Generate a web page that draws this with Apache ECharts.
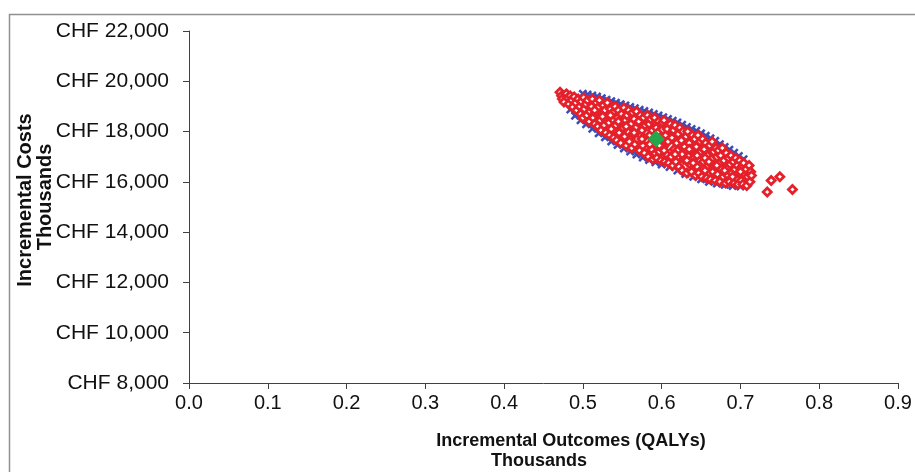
<!DOCTYPE html>
<html>
<head>
<meta charset="utf-8">
<script src="https://cdn.jsdelivr.net/npm/echarts@6/dist/echarts.min.js"></script>
<style>html,body{margin:0;padding:0;background:#fff}#c{width:915px;height:472px}</style>
</head>
<body>
<div id="c"></div>
<script>
const xTicks = [0, 0.1, 0.2, 0.3, 0.4, 0.5, 0.6, 0.7, 0.8, 0.9];
const xTickLabels = ['0.0', '0.1', '0.2', '0.3', '0.4', '0.5', '0.6', '0.7', '0.8', '0.9'];
const yTicks = [8000, 10000, 12000, 14000, 16000, 18000, 20000, 22000];
const yTickLabels = ['CHF 8,000', 'CHF 10,000', 'CHF 12,000', 'CHF 14,000', 'CHF 16,000', 'CHF 18,000', 'CHF 20,000', 'CHF 22,000'];
const xTitle = 'Incremental Outcomes (QALYs)';
const xUnits = 'Thousands';
const yTitle = 'Incremental Costs';
const yUnits = 'Thousands';

const seriesBlue = [
  [0.500,19500],[0.506,19470],[0.512,19430],[0.518,19390],[0.524,19330],[0.530,19270],[0.536,19210],[0.542,19150],
  [0.548,19090],[0.554,19040],[0.560,18980],[0.566,18930],[0.572,18870],[0.578,18820],[0.584,18760],[0.590,18700],
  [0.596,18640],[0.602,18570],[0.608,18500],[0.614,18430],[0.620,18360],[0.626,18270],[0.632,18180],[0.638,18100],
  [0.644,18030],[0.650,17930],[0.656,17830],[0.662,17730],[0.668,17630],[0.674,17500],[0.680,17390],[0.686,17280],
  [0.692,17160],[0.698,17030],[0.704,16900],
  [0.484,18880],[0.490,18630],[0.497,18450],[0.504,18290],[0.512,18110],[0.520,17930],[0.528,17770],[0.536,17610],
  [0.544,17470],[0.552,17330],[0.560,17210],[0.568,17090],[0.576,16970],[0.584,16870],[0.592,16780],[0.600,16690],
  [0.610,16590],[0.620,16450],[0.630,16310],[0.640,16200],[0.650,16100],[0.660,16000],[0.670,15930],[0.680,15880],
  [0.690,15840],[0.700,15820],
  [0.683,16120],[0.695,16060],[0.705,16100],[0.709,16230],
  [0.520,18700],[0.540,18400],[0.560,18100],[0.580,17800],[0.600,17500],[0.620,17200],[0.640,16900],[0.660,16600],
  [0.550,18600],[0.570,18200],[0.590,17300],[0.610,17900],[0.630,17400],[0.650,17200],[0.670,16500],[0.530,18300],
  [0.690,16400]
];

const seriesRed = [
  [0.471,19560],[0.473,19420],[0.474,19300],[0.476,19180],
  [0.479,19500],[0.481,19350],[0.482,19100],[0.484,19420],[0.486,19250],[0.487,18980],
  [0.489,19380],[0.491,19150],[0.492,18850],[0.494,19300],[0.496,19000],[0.497,18700],[0.498,19200],
  [0.500,18550],[0.501,19350],[0.502,18900],[0.504,19100],[0.505,18650],[0.506,19250],[0.508,18400],[0.509,18800],
  [0.511,19000],[0.512,19300],[0.513,18550],[0.515,18300],[0.516,18750],[0.517,19150],[0.519,18200],[0.519,18950],
  [0.521,19250],[0.522,18450],[0.523,18050],[0.524,18700],[0.526,19050],[0.527,18250],[0.528,18850],[0.529,17950],
  [0.531,19150],[0.532,18600],[0.533,18350],[0.534,17850],[0.535,18900],[0.536,18100],[0.538,18750],[0.539,17750],[0.539,18450],
  [0.541,19000],[0.542,18250],[0.543,17650],[0.544,18550],[0.545,18850],[0.546,17950],[0.547,18350],[0.548,17550],[0.549,18700],
  [0.551,18150],[0.552,18950],[0.553,17800],[0.554,18450],[0.555,17450],[0.556,18650],[0.557,18000],[0.558,18850],[0.559,17600],
  [0.561,18300],[0.562,17350],[0.563,18750],[0.564,17900],[0.565,18500],[0.566,17500],[0.567,18150],[0.568,18800],[0.569,17700],
  [0.571,18400],[0.572,17250],[0.573,18650],[0.574,17850],[0.575,18050],[0.576,17450],[0.577,18550],[0.578,17150],[0.579,18250],
  [0.581,17650],[0.582,18650],[0.583,17000],[0.584,18300],[0.585,17850],[0.586,18500],[0.587,17300],[0.588,18050],[0.589,16900],
  [0.591,18550],[0.592,17500],[0.593,18150],[0.594,16950],[0.595,17950],[0.596,18400],[0.597,17200],[0.598,17750],[0.599,16850],
  [0.601,18350],[0.602,17400],[0.603,18450],[0.604,16800],[0.605,17850],[0.606,17100],[0.607,18100],[0.608,17600],[0.609,16750],
  [0.611,18300],[0.612,17000],[0.613,17750],[0.614,16650],[0.615,18050],[0.616,17300],[0.617,18250],[0.618,16800],[0.619,17550],
  [0.621,17900],[0.622,16600],[0.623,18150],[0.624,17150],[0.625,17650],[0.626,16450],[0.627,18000],[0.628,16900],[0.629,17400],
  [0.631,17800],[0.632,16350],[0.633,18000],[0.634,17050],[0.635,17550],[0.636,16700],[0.637,17250],[0.638,16400],[0.639,17850],
  [0.641,16950],[0.642,17700],[0.643,16250],[0.644,17400],[0.645,16600],[0.646,17850],[0.647,16350],[0.648,17150],[0.649,17600],
  [0.651,16200],[0.652,17700],[0.653,16800],[0.654,17300],[0.655,16450],[0.656,17550],[0.657,16150],[0.658,17050],[0.659,16650],
  [0.661,17450],[0.662,16100],[0.663,16900],[0.664,17600],[0.665,16400],[0.666,17200],[0.667,16650],[0.668,16050],[0.669,17350],
  [0.671,16300],[0.672,17250],[0.673,16750],[0.674,16000],[0.675,17050],[0.676,16500],[0.677,17350],[0.678,16200],[0.679,16850],
  [0.681,15950],[0.682,17150],[0.683,16550],[0.684,16250],[0.685,16950],[0.686,16000],[0.687,16700],[0.688,17050],[0.689,16350],
  [0.691,16800],[0.692,15950],[0.693,16500],[0.694,16950],[0.695,16150],[0.696,16650],[0.697,15900],[0.698,16350],[0.699,16850],
  [0.701,16050],[0.702,16600],[0.703,15900],[0.704,16750],[0.705,16300],[0.707,16500],[0.708,15850],[0.709,16200],
  [0.711,16650],[0.712,16000],[0.713,16400],[0.714,16250],
  [0.620,17250],[0.626,17100],[0.632,16850],[0.640,16750],[0.645,17050],[0.655,16950],[0.660,16800],[0.617,17100],
  [0.635,17300],[0.603,17250],[0.597,17450],[0.585,17500],[0.575,17700],[0.565,17950],[0.555,18200],[0.545,18400],
  [0.535,18650],[0.525,18600],[0.515,18850],[0.670,16650],[0.680,16450],[0.690,16200],[0.700,16400],
  [0.734,15600],[0.739,16050],[0.750,16200],[0.766,15700]
];

const meanPoint = [[0.593, 17700]];

const chart = echarts.init(document.getElementById('c'), null, {renderer: 'canvas'});
const FONT = 'Liberation Sans, Arial, sans-serif';

function labelFor(ticks, labels, v) {
  for (let i = 0; i < ticks.length; i++) {
    if (Math.abs(ticks[i] - v) < 1e-9 * Math.max(1, Math.abs(v))) return labels[i];
  }
  return '';
}

const option = {
  animation: false,
  backgroundColor: '#fff',
  grid: {left: 189, right: 17, top: 31, bottom: 89},
  xAxis: {
    type: 'value',
    min: xTicks[0],
    max: xTicks[xTicks.length - 1],
    interval: xTicks[1] - xTicks[0],
    splitLine: {show: false},
    axisLine: {show: true, onZero: false, lineStyle: {color: '#404040', width: 1}},
    axisTick: {show: true, inside: false, length: 6, lineStyle: {color: '#404040'}},
    axisLabel: {
      margin: 10,
      color: '#111',
      fontFamily: FONT,
      fontSize: 20,
      formatter: v => labelFor(xTicks, xTickLabels, v)
    }
  },
  yAxis: {
    type: 'value',
    min: yTicks[0],
    max: yTicks[yTicks.length - 1],
    interval: yTicks[1] - yTicks[0],
    splitLine: {show: false},
    axisLine: {show: true, onZero: false, lineStyle: {color: '#404040', width: 1}},
    axisTick: {show: true, inside: false, length: 6, lineStyle: {color: '#404040'}},
    axisLabel: {
      margin: 20,
      color: '#111',
      fontFamily: FONT,
      fontSize: 21,
      formatter: v => labelFor(yTicks, yTickLabels, v)
    }
  },
  graphic: [
    {type: 'rect', silent: true, z: -1,
     shape: {x: 9.5, y: 14.5, width: 1200, height: 1200},
     style: {fill: 'none', stroke: '#8f8f8f', lineWidth: 1.5}},
    {type: 'text', x: 571, y: 441,
     style: {text: xTitle, font: 'bold 18px ' + FONT, fill: '#111', textAlign: 'center', textVerticalAlign: 'middle'}},
    {type: 'text', x: 539, y: 461,
     style: {text: xUnits, font: 'bold 18px ' + FONT, fill: '#111', textAlign: 'center', textVerticalAlign: 'middle'}},
    {type: 'text', x: 25, y: 200, rotation: Math.PI / 2,
     style: {text: yTitle, font: 'bold 20px ' + FONT, fill: '#111', textAlign: 'center', textVerticalAlign: 'middle'}},
    {type: 'text', x: 45, y: 197, rotation: Math.PI / 2,
     style: {text: yUnits, font: 'bold 20px ' + FONT, fill: '#111', textAlign: 'center', textVerticalAlign: 'middle'}}
  ],
  series: [
    {
      type: 'scatter',
      name: 'blue',
      data: seriesBlue,
      symbol: 'path://M2,0 L5,3 L8,0 L10,2 L7,5 L10,8 L8,10 L5,7 L2,10 L0,8 L3,5 L0,2 Z',
      symbolSize: 9,
      itemStyle: {color: '#3d4db8', opacity: 1},
      z: 2
    },
    {
      type: 'scatter',
      name: 'red',
      data: seriesRed,
      symbol: 'diamond',
      symbolSize: 8,
      itemStyle: {color: '#ffffff', borderColor: '#e5202a', borderWidth: 2.8, opacity: 1},
      z: 3
    },
    {
      type: 'scatter',
      name: 'mean',
      data: meanPoint,
      symbol: 'diamond',
      symbolSize: 17,
      itemStyle: {color: '#22a84a', opacity: 1},
      z: 4
    }
  ]
};
chart.setOption(option);
</script>
</body>
</html>
